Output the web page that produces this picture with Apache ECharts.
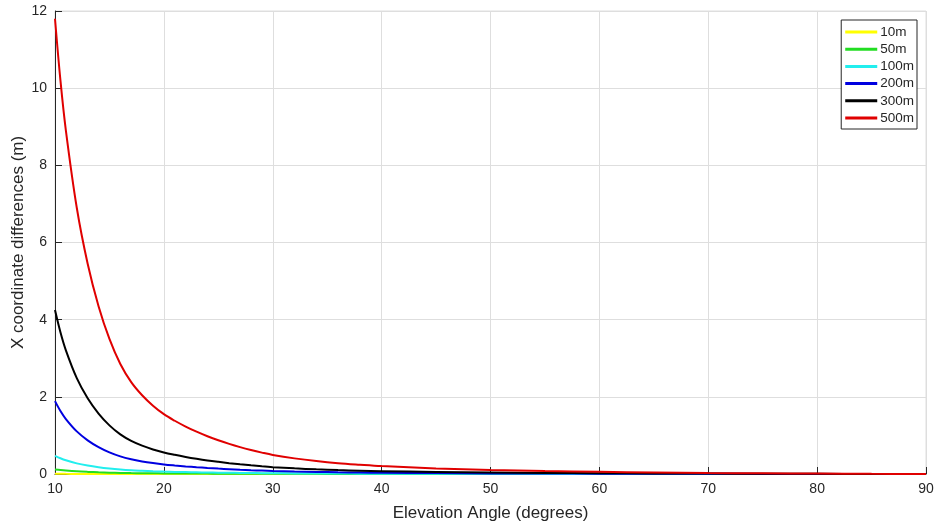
<!DOCTYPE html>
<html>
<head>
<meta charset="utf-8">
<script src="https://cdn.jsdelivr.net/npm/echarts@6/dist/echarts.min.js"></script>
<style>
html,body{margin:0;padding:0;background:#fff;}
#chart{width:938px;height:526px;}
</style>
</head>
<body>
<div id="chart"></div>
<script>
var angles = [10,10.5,11,12,13,14,15,16,17,18,19,20,21,22,23,24,25,26,27,28,29,30,32,34,36,38,40,45,50,55,60,65,70,75,80,85,90];
var h10 = [0.0047,0.0041,0.0036,0.0028,0.0022,0.0017,0.0014,0.0011,0.0010,0.0008,0.0007,0.0006,0.0006,0.0005,0.0004,0.0004,0.0003,0.0003,0.0003,0.0002,0.0002,0.0002,0.0002,0.0001,0.0001,0.0001,0.0001,0.0001,0,0,0,0,0,0,0,0,0];
var h50 = [0.118,0.102,0.089,0.069,0.055,0.044,0.035,0.029,0.024,0.0204,0.0177,0.0155,0.0138,0.0123,0.011,0.0098,0.0087,0.0078,0.007,0.0062,0.0055,0.0049,0.004,0.0034,0.0028,0.0024,0.002,0.0015,0.001,0.0008,0.0006,0.0004,0.0003,0.0002,0.0001,0.00005,0];
var h100 = [0.472,0.408,0.356,0.276,0.218,0.174,0.14,0.114,0.095,0.082,0.071,0.062,0.055,0.049,0.044,0.039,0.035,0.031,0.028,0.025,0.022,0.02,0.016,0.013,0.011,0.0096,0.0082,0.0058,0.0041,0.003,0.0022,0.0016,0.0011,0.0007,0.0004,0.0002,0];
var h200 = [1.888,1.632,1.424,1.104,0.872,0.696,0.56,0.456,0.381,0.326,0.283,0.248,0.221,0.197,0.176,0.157,0.14,0.125,0.111,0.099,0.089,0.079,0.065,0.054,0.045,0.038,0.033,0.023,0.016,0.012,0.009,0.0064,0.0045,0.0029,0.0018,0.0008,0];
var h300 = [4.248,3.672,3.204,2.484,1.962,1.566,1.26,1.026,0.857,0.734,0.637,0.558,0.497,0.443,0.395,0.352,0.315,0.281,0.251,0.224,0.199,0.178,0.146,0.121,0.101,0.086,0.074,0.052,0.037,0.027,0.020,0.014,0.010,0.0065,0.004,0.0018,0];
var h500 = [11.8,10.2,8.9,6.9,5.45,4.35,3.5,2.85,2.38,2.04,1.77,1.55,1.38,1.23,1.097,0.979,0.874,0.78,0.696,0.621,0.554,0.494,0.405,0.335,0.28,0.24,0.205,0.145,0.103,0.076,0.056,0.04,0.028,0.018,0.011,0.005,0];
var seriesNames = ['10m','50m','100m','200m','300m','500m'];
var seriesColors = ['#ffff00','#22dd22','#22eeee','#0000e0','#000000','#e00000'];
var seriesValues = [h10,h50,h100,h200,h300,h500];

var font = 'Liberation Sans, Arial, Helvetica, sans-serif';
var axisColor = '#262626';

function pairs(vals){
  return angles.map(function(a,i){ return [a, vals[i]]; });
}

var series = seriesNames.map(function(n,i){
  return {
    name: n,
    type: 'line',
    data: pairs(seriesValues[i]),
    showSymbol: false,
    symbol: 'none',
    smooth: 0.35,
    lineStyle: {color: seriesColors[i], width: 2},
    itemStyle: {color: seriesColors[i]},
    z: 2 + i
  };
});

var chart = echarts.init(document.getElementById('chart'), null, {renderer: 'canvas'});
chart.setOption({
  animation: false,
  backgroundColor: '#ffffff',
  grid: {left: 55, right: 12, top: 11, bottom: 52, show: true, borderColor: '#dedede', borderWidth: 1, containLabel: false, outerBoundsMode: 'none'},
  legend: {
    orient: 'vertical',
    right: 21,
    top: 20,
    padding: [5, 3, 4, 4],
    itemGap: 3.2,
    itemWidth: 32,
    itemHeight: 3,
    icon: 'rect',
    borderColor: axisColor,
    borderWidth: 1,
    backgroundColor: '#ffffff',
    textStyle: {fontFamily: font, fontSize: 13.5, color: axisColor, lineHeight: 14, padding: [0,0,0,-2]},
    data: seriesNames
  },
  xAxis: {
    type: 'value',
    min: 10, max: 90, interval: 10,
    name: 'Elevation Angle (degrees)',
    nameLocation: 'middle',
    nameGap: 31,
    nameMoveOverlap: false,
    nameTextStyle: {fontFamily: font, fontSize: 17, color: axisColor},
    axisLine: {show: true, onZero: false, lineStyle: {color: axisColor, width: 1}},
    axisTick: {show: true, inside: true, length: 7, lineStyle: {color: axisColor}},
    axisLabel: {fontFamily: font, fontSize: 14, color: axisColor, margin: 8},
    splitLine: {show: true, lineStyle: {color: '#dedede', width: 1}}
  },
  yAxis: {
    type: 'value',
    min: 0, max: 12, interval: 2,
    name: 'X coordinate differences (m)',
    nameLocation: 'middle',
    nameGap: 28,
    nameMoveOverlap: false,
    nameTextStyle: {fontFamily: font, fontSize: 17, color: axisColor},
    axisLine: {show: true, onZero: false, lineStyle: {color: axisColor, width: 1}},
    axisTick: {show: true, inside: true, length: 7, lineStyle: {color: axisColor}},
    axisLabel: {fontFamily: font, fontSize: 14, color: axisColor, margin: 8},
    splitLine: {show: true, lineStyle: {color: '#dedede', width: 1}}
  },
  series: series
});
</script>
</body>
</html>
